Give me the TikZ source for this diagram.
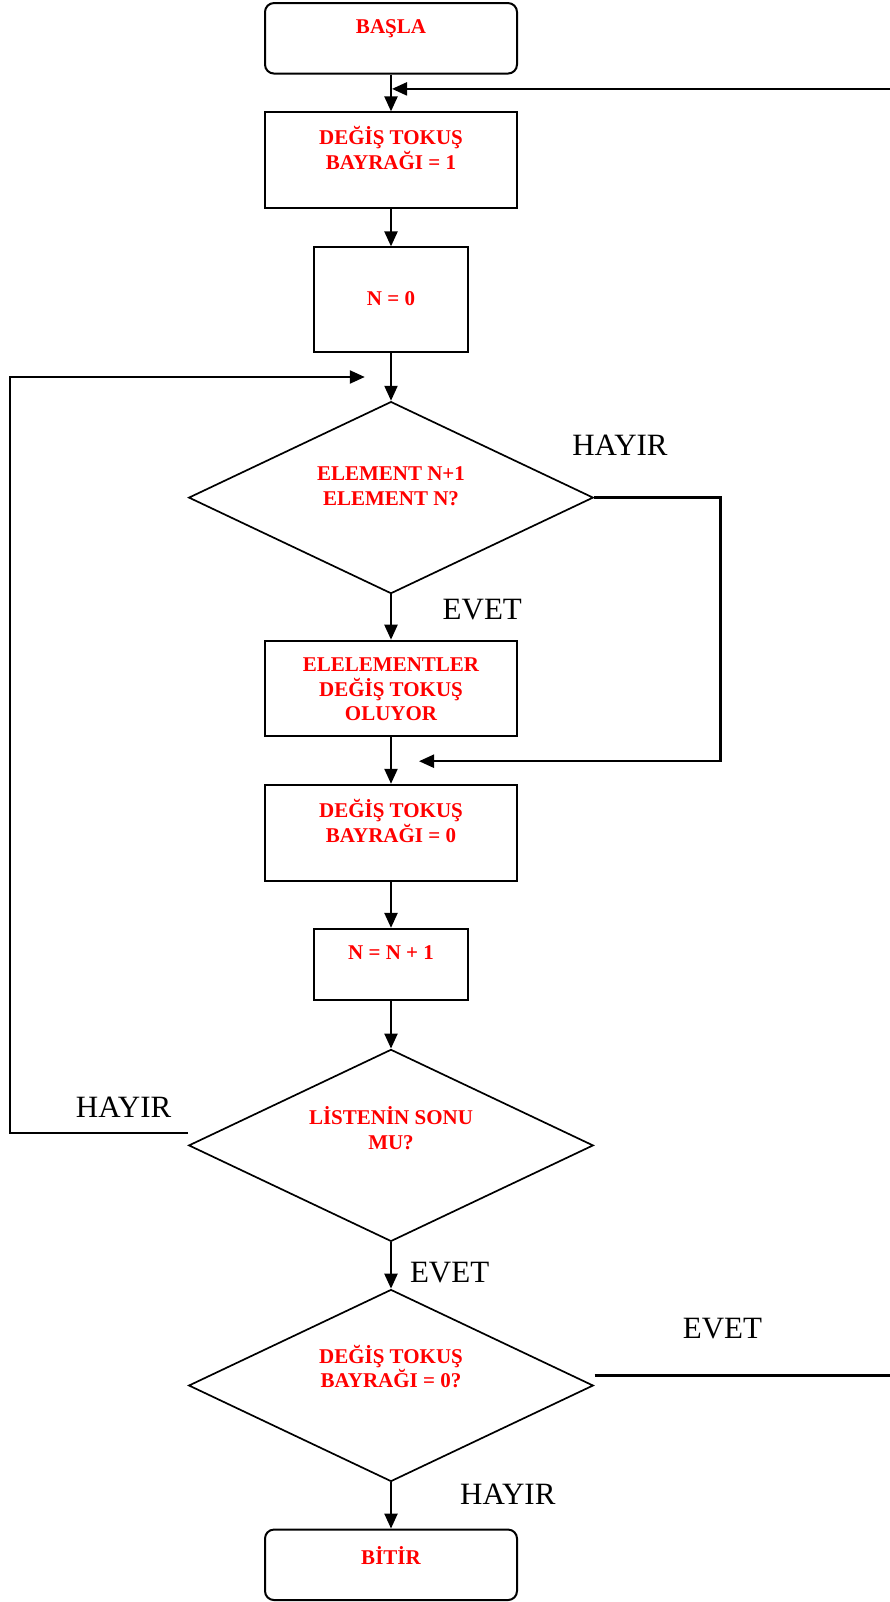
\documentclass[tikz,border=0pt]{standalone}
\usepackage{fontspec}
\setmainfont{Liberation Serif}
\usetikzlibrary{arrows.meta,shapes.geometric}
\definecolor{txtred}{RGB}{255,0,0}
\begin{document}
\begin{tikzpicture}[x=1pt,y=-1pt,line width=2.3pt,
  arr/.style={-{Triangle[length=15pt,width=13pt]}},
  box/.style={draw,line width=2pt,minimum width=252pt,minimum height=#1,inner sep=0pt},
  sbox/.style={draw,line width=2pt,minimum width=153.3pt,minimum height=#1,inner sep=0pt},
  term/.style={box=70.5pt,rounded corners=9pt},
  dia/.style={draw,line width=1.7pt,diamond,shape aspect=2.1,minimum width=404.6pt,minimum height=192pt,inner sep=0pt},
  red/.style={text=txtred,font=\fontsize{21}{24.5}\selectfont\bfseries,align=center,inner sep=0pt},
  lbl/.style={font=\fontsize{31}{36}\selectfont,inner sep=0pt}
]
\useasboundingbox (0,0) rectangle (890,1602);
% shapes
\node[term] (basla) at (391,38.3) {};
\node[box=96pt] (b1) at (391,160.4) {};
\node[sbox=105pt] (n0) at (391,299.9) {};
\node[dia] (d1) at (391,497.6) {};
\node[box=95pt] (ele) at (391,688.2) {};
\node[box=96pt] (b0) at (391,832.8) {};
\node[sbox=71.5pt] (nn) at (391,964.6) {};
\node[dia] (d2) at (391,1145.4) {};
\node[dia] (d3) at (391,1385.5) {};
\node[term] (bitir) at (391,1564.8) {};
% texts
\node[red] (tb) at (391,28.5) {BAŞLA};
\node[red] (t1) at (391,148.2) {DEĞİŞ TOKUŞ\\BAYRAĞI = 1};
\node[red] (t2) at (391,298.4) {N = 0};
\node[red] (t3) at (391,486.3) {ELEMENT N+1\\ELEMENT N?};
\node[red] (t4) at (391,689.7) {ELELEMENTLER\\DEĞİŞ TOKUŞ\\OLUYOR};
\node[red] (t5) at (391,821) {DEĞİŞ TOKUŞ\\BAYRAĞI = 0};
\node[red] (t6) at (391,952.3) {N = N + 1};
\node[red] (t7) at (391,1128) {LİSTENİN SONU\\MU?};
\node[red] (t8) at (391,1366.7) {DEĞİŞ TOKUŞ\\BAYRAĞI = 0?};
\node[red] (t9) at (391,1556) {BİTİR};
% labels
\node[lbl] (h1) at (620,445.5) {HAYIR};
\node[lbl] (e1) at (482.3,610) {EVET};
\node[lbl] (h2) at (123.6,1107.6) {HAYIR};
\node[lbl] (e2) at (449.6,1273) {EVET};
\node[lbl] (e3) at (722.4,1328.3) {EVET};
\node[lbl] (h3) at (507.8,1494) {HAYIR};
% main flow
\draw[arr] (basla) -- (b1);
\draw[arr] (b1) -- (n0);
\draw[arr] (n0) -- (d1);
\draw[arr] (d1) -- (ele);
\draw[arr] (ele) -- (b0);
\draw[arr] (b0) -- (nn);
\draw[arr] (nn) -- (d2);
\draw[arr] (d2) -- (d3);
\draw[arr] (d3) -- (bitir);
% loops
\coordinate (rt) at (890,88.9);
\coordinate (rtend) at (392,88.9);
\draw[arr] (rt) -- (rtend);
\coordinate (rb) at (720.4,761.2);
\coordinate (rbend) at (419,761.2);
\draw[arr] (d1.east) -| (rb) -- (rbend);
\coordinate (ls) at (188,1133.2);
\coordinate (lc) at (10.2,1133.2);
\coordinate (lt) at (10.2,377);
\coordinate (lend) at (364.8,377);
\draw[arr] (ls) -- (lc) -- (lt) -- (lend);
\coordinate (es) at (594.7,1375.4);
\coordinate (ee) at (890,1375.4);
\draw (es) -- (ee);
\end{tikzpicture}
\end{document}
